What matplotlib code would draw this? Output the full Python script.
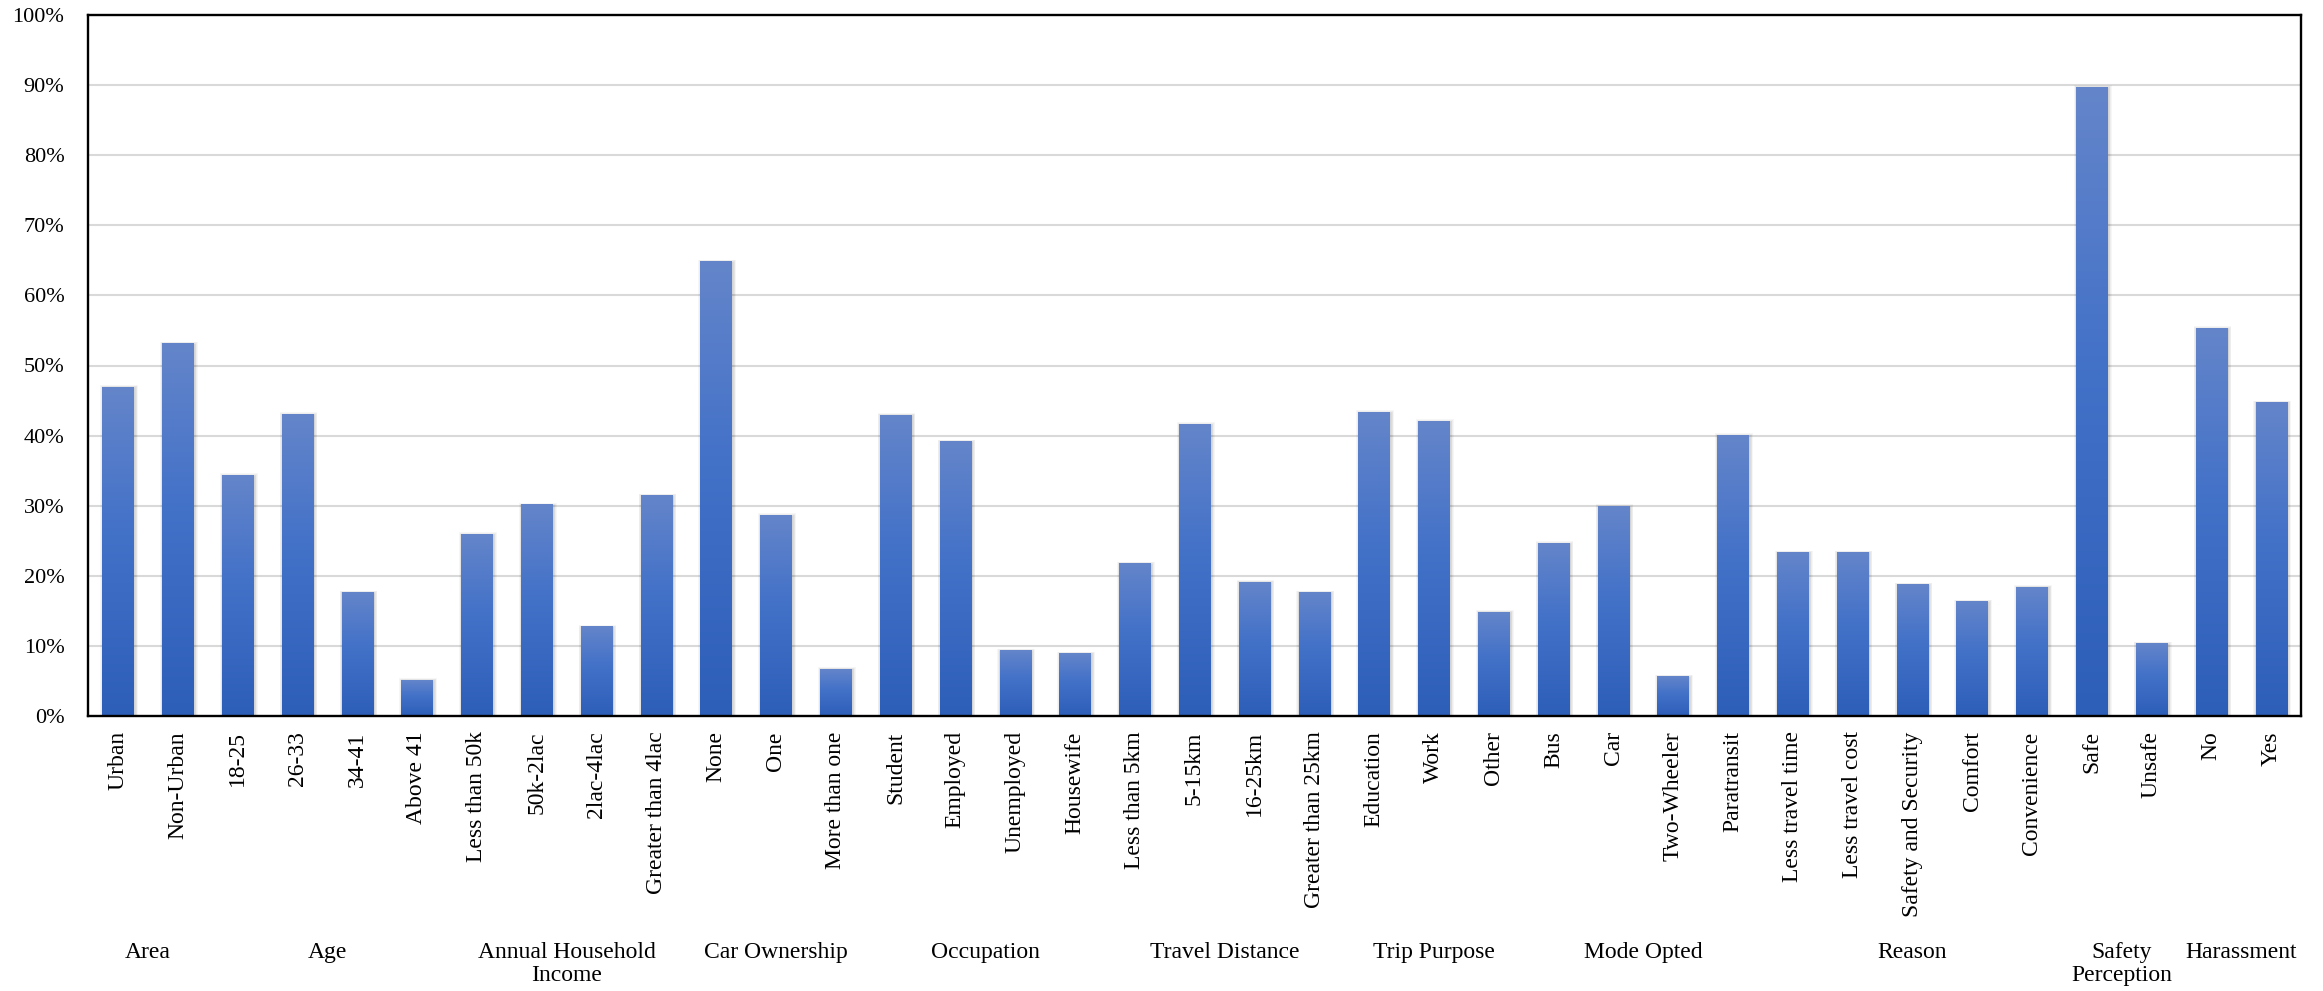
import numpy as np
import matplotlib
matplotlib.use("Agg")
import matplotlib.pyplot as plt
from matplotlib.patches import Rectangle
from matplotlib.colors import LinearSegmentedColormap
import matplotlib.transforms as mtransforms

# ---- data -------------------------------------------------------------
categories = [
    "Urban", "Non-Urban",
    "18-25", "26-33", "34-41", "Above 41",
    "Less than 50k", "50k-2lac", "2lac-4lac", "Greater than 4lac",
    "None", "One", "More than one",
    "Student", "Employed", "Unemployed", "Housewife",
    "Less than 5km", "5-15km", "16-25km", "Greater than 25km",
    "Education", "Work", "Other",
    "Bus", "Car", "Two-Wheeler", "Paratransit",
    "Less travel time", "Less travel cost", "Safety and Security", "Comfort", "Convenience",
    "Safe", "Unsafe",
    "No", "Yes",
]
values = [
    46.9, 53.1,
    34.3, 43.0, 17.6, 5.1,
    25.9, 30.1, 12.7, 31.4,
    64.8, 28.6, 6.7,
    42.9, 39.1, 9.3, 8.9,
    21.7, 41.6, 19.1, 17.6,
    43.3, 42.0, 14.8,
    24.6, 29.9, 5.6, 40.0,
    23.3, 23.3, 18.7, 16.3, 18.4,
    89.7, 10.3,
    55.3, 44.7,
]
group_names = ["Area", "Age", "Annual Household\nIncome", "Car Ownership",
               "Occupation", "Travel Distance", "Trip Purpose", "Mode Opted",
               "Reason", "Safety\nPerception", "Harassment"]
group_sizes = [2, 4, 4, 3, 4, 4, 3, 4, 5, 2, 2]
y_ticks = list(range(0, 101, 10))

# ---- style ------------------------------------------------------------
plt.rcParams["font.family"] = ["Liberation Serif", "DejaVu Serif"]
FS = 17

fig = plt.figure(figsize=(23.23, 9.91), dpi=100)
ax = fig.add_axes([88 / 2323, 1 - 716 / 991, (2301 - 88) / 2323, (716 - 15) / 991])

x = np.arange(len(categories))
bar_w = 0.52
bars = ax.bar(x, values, width=bar_w, color="none", edgecolor="none", zorder=3)

# vertical gradient for each bar: light at the top, deeper blue at the base
grad_cmap = LinearSegmentedColormap.from_list(
    "bar_grad", [(0.0, "#2D5EB8"), (0.55, "#4271C8"), (1.0, "#6485CA")])
grad = np.linspace(0, 1, 256).reshape(-1, 1)

for rect in bars:
    x0, w, h = rect.get_x(), rect.get_width(), rect.get_height()
    # soft drop shadow
    for k in range(1, 6):
        ex = 0.011 * k
        ey = 0.09 * k
        ax.add_patch(Rectangle((x0 - ex + 0.02, -1), w + 2 * ex, h + 1 + ey - 0.15,
                               facecolor="#000000", alpha=0.035, edgecolor="none",
                               zorder=2))
    ax.imshow(grad, extent=[x0, x0 + w, 0, h], origin="lower", aspect="auto",
              cmap=grad_cmap, interpolation="bicubic", zorder=3)

ax.set_xlim(-0.5, len(categories) - 0.5)
ax.set_ylim(0, 100)
ax.set_yticks(y_ticks)
ax.set_yticklabels([f"{v}%" for v in y_ticks], fontsize=16)
ax.set_xticks(x)
ax.set_xticklabels(categories, rotation=90, fontsize=FS, va="top", ha="center")
ax.tick_params(axis="both", length=0)
ax.tick_params(axis="y", pad=17)
ax.tick_params(axis="x", pad=11)

ax.yaxis.grid(True, color="#D9D9D9", linewidth=1.5, zorder=0)
ax.set_axisbelow(True)
for s in ax.spines.values():
    s.set_color("black")
    s.set_linewidth(1.7)
    s.set_zorder(5)

# group captions centred beneath each block of categories
trans = mtransforms.blended_transform_factory(ax.transData, fig.transFigure)
start = 0
for name, size in zip(group_names, group_sizes):
    centre = start + (size - 1) / 2
    fig.text(centre, 1 - 942 / 991, name, transform=trans, ha="center", va="top",
             fontsize=FS, linespacing=1.12)
    start += size

fig.savefig("out.png", dpi=100, facecolor="white")
